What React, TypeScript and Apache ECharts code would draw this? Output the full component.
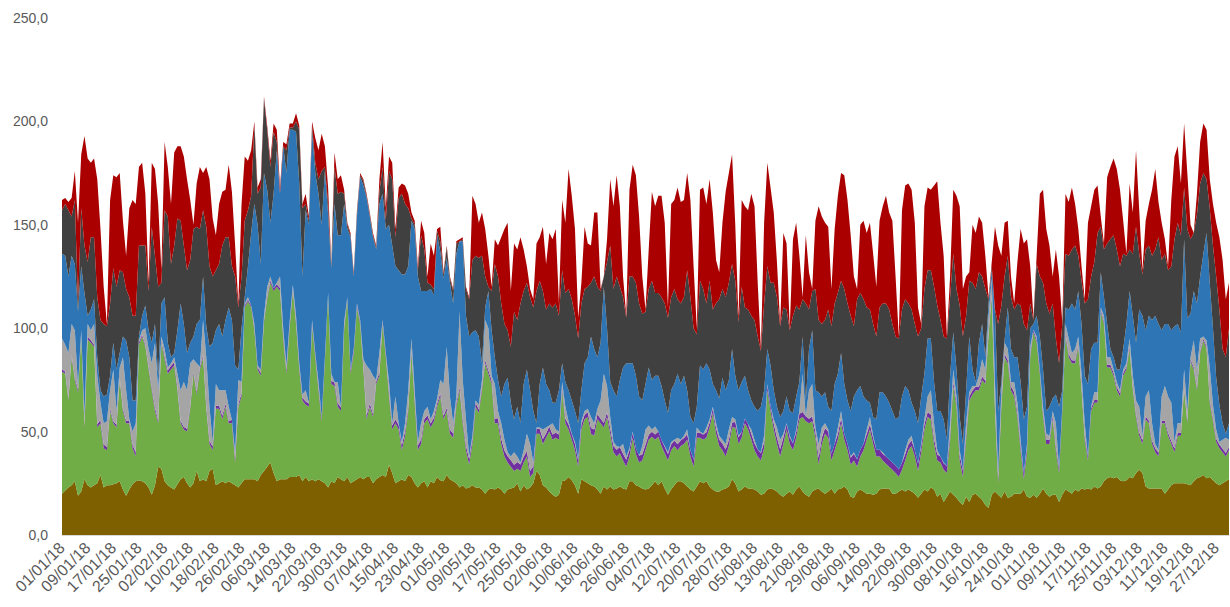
import React, { useEffect, useRef } from "react";
import * as echarts from "echarts";

// Levels: the top edge of each band (cumulative), per day of 2018.
const brownTop = [
  20, 21.5, 23, 24, 26, 19, 21, 27, 24, 23, 24, 25, 29, 23, 24, 24, 24.5, 25, 26, 22, 19, 22, 24.5, 26, 26.5, 26, 25, 23, 19.5, 24, 33, 32, 26, 24, 23, 22, 24.5,
  27, 28, 25, 23, 25, 31, 26, 27, 26, 31, 32, 24, 25, 26, 25, 26, 25, 24, 23, 25, 27, 27, 27, 27, 26, 29, 31, 33, 35, 30, 26, 27, 27, 27, 28, 28, 28, 29, 26,
  28, 26, 27, 26, 27, 26, 25, 23, 26, 25, 28, 27, 26, 28, 25, 26, 27, 28, 27, 28, 28, 25, 27, 28, 29, 28, 34, 30, 25, 26, 27, 26, 29, 28, 25, 23, 25, 26, 23,
  26, 25, 28, 26.5, 26, 29, 27, 26, 25, 23, 24, 22.5, 23, 24, 23, 23, 22, 20, 22, 22.5, 22, 23, 22, 20, 22, 22.5, 23, 25, 21, 24, 22, 23, 25, 31, 29, 24, 23, 21, 19.5,
  18.5, 19.5, 26, 26.5, 28, 26.5, 24, 20, 27, 26, 25, 24, 23.5, 22, 20, 23.5, 22, 23.5, 22, 22.5, 23.5, 22.5, 22, 26, 26, 24, 23.5, 22.5, 22, 22.5, 24, 26, 24, 26, 22.5, 19.5, 22, 24, 26,
  26, 25, 23.5, 22, 21, 23.5, 26, 25, 26, 23.5, 22, 21, 21, 22, 22.5, 23.5, 27, 25, 21, 22, 23.5, 22.5, 22.5, 22, 21, 19.5, 20, 22, 22.5, 22, 21, 19.5, 18.5, 20, 21, 19.5, 22, 23.5, 21,
  19.5, 18.5, 21, 22, 22.5, 21, 20, 21, 22.5, 20, 22, 22.5, 23.5, 22, 18.5, 18, 21, 22, 21, 20, 20, 19.5, 20, 22, 22.5, 22.5, 22.5, 20, 20, 21, 22, 21, 22, 21, 20, 18, 20, 22, 21,
  23, 22, 18.5, 20, 16, 18.5, 21, 19.5, 18, 16, 14.5, 18.5, 16, 19.5, 20, 18.5, 17, 14.5, 13, 19.5, 21, 19.5, 18, 21, 18, 18.5, 20, 20, 20, 22, 18.5, 18, 19.5, 18, 20, 22.5, 20, 18.5, 19.5,
  19.5, 16, 19.5, 22, 21, 20, 22, 21, 22.5, 22, 22.5, 22, 23.5, 22.5, 23.5, 26, 27.5, 28, 27.5, 28, 26.5, 26, 26.5, 28, 27.5, 30, 31.5, 30, 23.5, 22.5, 22.5, 22.5, 22.5, 22.5, 20, 22, 24, 25, 25,
  25, 25, 24.5, 24, 26, 27.5, 28, 29, 27.5, 28, 26.5, 25, 24, 25, 26, 27,
];

const greenTop = [
  79, 78, 65, 86, 75, 69, 96, 52, 94.5, 93, 91, 52, 54, 42, 41, 60, 54, 52, 75, 60, 54, 54, 42, 38, 92, 96, 91, 80, 70, 60, 54, 93, 85, 78, 80, 82, 70,
  54, 51, 50, 61, 78, 68, 80, 86, 61, 44, 41, 61, 61, 56, 62, 54, 54, 35, 62, 67, 110, 113, 110, 99, 80, 77, 103, 114, 122, 118, 120, 118, 95, 78, 100, 118, 102, 80, 65,
  63, 62, 101, 86, 70, 55, 84, 116, 73, 72, 62, 60, 99, 114, 78, 88, 110, 102, 80, 56, 62, 57, 73, 77, 102, 86, 67, 51, 54, 51, 41, 48, 60, 88, 64, 41, 44, 54, 56,
  52, 55, 62, 67, 56, 60, 49, 47, 62, 70, 54, 41, 34, 44, 62, 59, 70, 83, 78, 73, 54, 54, 44, 38, 35, 33, 31, 32, 31, 35, 38, 28, 30, 49, 49, 44, 47, 50, 46,
  47, 46, 70, 54, 51, 46, 41, 33, 51, 56, 57, 49, 48, 56, 54, 52, 57, 49, 40, 38, 39.5, 36, 33, 38, 47, 39, 35, 36, 41, 46, 47.5, 46, 47.5, 43, 39.5, 36, 41, 43, 41,
  43, 44, 46, 38, 33, 47, 47, 46, 47, 52, 59, 49, 43, 41, 38, 43, 52, 52, 44, 47, 54, 51, 46, 41, 38, 36, 42, 70, 60, 51, 44, 38, 44, 51, 44, 41, 47, 56, 57,
  55, 54, 55, 47, 34, 44, 49, 47, 36, 41, 46, 54, 46, 41, 34, 36, 33, 38, 41, 46, 51, 44, 38, 38, 36, 34.5, 33, 31.5, 30, 28, 31.5, 36, 41, 43, 38, 31, 40, 51, 57,
  56, 44, 36, 35, 31.5, 30, 46, 72, 62, 36, 28, 46, 65, 68, 70, 70, 75, 73, 96, 115, 60, 25, 62, 86, 83, 70, 67, 57, 41, 27, 40, 86, 98, 93, 78, 57, 44, 44, 56,
  41, 30, 60, 96, 86, 83, 83, 91, 70, 46, 36, 60, 64, 64, 108, 102, 81, 81, 77, 70, 67, 77, 80, 90, 70, 57, 48, 44, 56, 54, 44, 40, 38, 54, 54, 48, 44, 40, 48,
  48, 70, 54, 84, 80, 70, 88, 94, 90, 64, 55, 45, 42, 40, 38, 41,
];

// Thickness of the thin purple band.
const purpleBand = [
  1.2, 1, 0.8, 1, 1.1, 1.3, 0.9, 1, 1.4, 1.2, 1, 1.5, 1.6, 1.8, 1.5, 1.2, 1, 1.3, 1.1, 1, 1.2, 1.4, 1.7, 1.9, 1.2, 1, 0.9, 1.1, 1.3, 1.5, 1.2, 1, 1.4, 1.6, 1.8, 1.5, 1.2,
  1.1, 1.2, 1.4, 1.2, 1, 1.1, 1.3, 1, 1.2, 1.5, 1.8, 1.4, 1.6, 1.7, 1.5, 1.3, 1.6, 2, 1.4, 1.6, 1, 0.9, 1, 1.1, 1.2, 1.3, 0.9, 1, 1.1, 1.3, 1.2, 1.4, 1.6, 1.5, 1.2, 1.1, 1.3, 1.4, 1.5,
  1.5, 1.6, 1.2, 1.4, 1.5, 1.6, 1.3, 1, 1.6, 1.7, 1.8, 1.6, 1.2, 1.1, 1.5, 1.3, 1.1, 1.2, 1.4, 1.8, 1.6, 1.5, 1.3, 1.4, 1.2, 1.3, 1.7, 2, 1.8, 2.2, 2.4, 2.2, 1.8, 1.5, 1.9, 2.3, 2.2, 2, 1.9,
  1.9, 1.8, 1.6, 1.5, 1.7, 1.4, 1.9, 2.1, 1.8, 1.5, 1.9, 2.3, 2.6, 2.2, 1.9, 1.7, 1.6, 1.5, 1.6, 1.8, 2.2, 2.4, 2.6, 2.9, 3.1, 3.2, 3, 3.3, 3.1, 2.8, 2.6, 3, 3.2, 2.5, 2.3, 2.4, 2.2, 2.5, 2.6,
  2.5, 2.6, 1.8, 2.2, 2.4, 2.7, 3, 3.2, 2.4, 2.2, 2.3, 2.8, 3, 2.4, 2.2, 2.1, 2.3, 2.6, 3, 3.2, 3, 3.3, 3.4, 3.1, 2.6, 3, 3.3, 3.1, 2.8, 2.5, 2.4, 2.6, 2.5, 2.8, 3, 3.2, 2.8, 2.7, 2.9,
  2.8, 2.9, 2.7, 3.1, 3.4, 2.6, 2.5, 2.6, 2.7, 2.4, 2.3, 2.8, 3.1, 3.3, 3.4, 2.9, 2.4, 2.6, 3.1, 2.8, 2.3, 2.5, 2.9, 3.2, 3.4, 3.5, 3, 2.2, 2.4, 2.8, 3.2, 3.5, 3.1, 2.7, 3.2, 3.3, 2.9, 2.6, 2.5,
  2.4, 2.2, 2.3, 2.8, 3.4, 3, 2.8, 2.9, 3.3, 3.1, 2.8, 2.5, 2.9, 3.1, 3.4, 3.3, 3.5, 3.2, 3, 2.8, 2.5, 2.9, 3.2, 3.2, 3.3, 3.4, 3.5, 3.5, 3.6, 3.7, 3.4, 3.1, 2.8, 2.7, 3, 3.4, 3, 2.6, 2.4,
  2.3, 2.6, 2.9, 3, 3.2, 3.3, 2.6, 2, 2.2, 2.8, 3.1, 2.4, 2, 1.9, 1.8, 1.7, 1.6, 1.6, 1.4, 1.2, 1.6, 2.6, 1.8, 1.5, 1.6, 1.9, 2, 2.1, 2.5, 2.8, 2.4, 1.5, 1.3, 1.4, 1.6, 1.9, 2.2, 2.1, 1.8,
  1.8, 2.2, 1.5, 1.3, 1.4, 1.5, 1.4, 1.2, 1.5, 1.8, 2, 1.4, 1.3, 1.3, 1, 1.1, 1.3, 1.3, 1.4, 1.5, 1.5, 1.3, 1.2, 1.1, 1.3, 1.5, 1.6, 1.8, 1.4, 1.3, 1.6, 1.8, 1.9, 1.4, 1.3, 1.4, 1.5, 1.8, 1.6,
  1.5, 1.1, 1.3, 1, 1.1, 1.2, 1, 1, 1.1, 1.3, 1.5, 1.6, 1.8, 1.7, 1.6, 1.5,
];

const grayTop = [
  95, 92, 88, 102, 99, 72, 99, 58, 102, 99, 102, 77, 64, 54, 55, 70, 80, 60, 81, 86, 70, 56, 50, 54, 94, 99, 100, 90, 83, 93, 70, 96, 90, 81, 83, 86, 78,
  70, 74, 70, 83, 85, 83, 81, 104, 86, 62, 45, 73, 70, 70, 70, 62, 55, 40, 75, 74, 112, 115, 111, 102, 82, 80, 106, 120, 125, 119, 122, 125, 100, 82, 103, 121, 106, 83, 68,
  70, 64, 104, 88, 74, 57, 86, 117, 78, 74, 74, 61, 103, 115, 80, 90, 112, 104, 85, 82, 80, 77, 75, 88, 104, 88, 74, 54, 67, 54, 45, 54, 70, 95, 70, 45, 54, 60, 62,
  56, 60, 66, 75, 73, 91, 67, 54, 67, 108, 75, 56, 38, 48, 65, 63, 75, 104, 100, 77, 73, 60, 54, 46, 40, 38, 40, 38, 35, 41, 49, 44, 35, 52, 52, 51, 52, 53, 54,
  51, 50, 74, 62, 55, 49, 45, 37, 55, 60, 61, 57, 54, 61, 65, 78, 72, 57, 45, 43, 42, 44, 38, 42, 50, 42, 38, 43, 51, 53, 51, 52.5, 50, 45, 43, 40, 45, 46, 47,
  46, 48, 51, 41, 35, 52, 50, 49, 52, 56, 62, 54, 48, 46, 44, 51, 57, 56, 48, 49, 56, 52, 51, 46, 41, 40, 48, 73, 62, 56, 52, 46, 49, 54, 48, 44, 51, 60, 78,
  57, 70, 73, 52, 44, 52, 54, 51, 38, 44, 52, 60, 48, 44, 38, 40, 35, 40, 44, 51, 57, 48, 41, 41, 40, 38, 36, 35, 33, 31.5, 35, 41, 46, 48, 41, 34, 44, 56, 67,
  70, 54, 41, 38, 35, 32, 54, 80, 67, 41, 31.5, 54, 69, 72, 72, 77, 85, 80, 106, 124, 74, 30, 70, 93, 90, 74, 74, 64, 46, 30, 44, 91, 99, 96, 80, 62, 49, 48, 60,
  54, 32, 62, 102, 95, 88, 90, 96, 78, 54, 37, 62, 69, 69, 110, 106, 86, 86, 80, 74, 70, 80, 83, 95, 77, 65, 62, 48, 67, 70, 54, 44, 41, 67, 72, 67, 64, 45, 54,
  54, 80, 60, 86, 94, 80, 95, 96, 94, 81, 63, 51, 45, 46, 47, 46,
];

const blueTop = [
  136, 135, 125, 135, 131, 108, 130, 117, 106, 109, 114, 86, 70, 67, 68, 77, 93, 80, 88, 96, 94, 86, 65, 65, 96, 106, 111, 99, 93, 102, 77, 112, 115, 93, 86, 88, 99,
  112, 102, 88, 93, 96, 102, 104, 125, 101, 91, 93, 99, 102, 96, 104, 110, 104, 82, 80, 100, 115, 130, 146, 160, 150, 131, 175, 167, 151, 165, 186, 165, 188, 175, 196, 196, 195, 170, 125,
  157, 150, 195, 175, 165, 150, 176, 155, 129, 160, 145, 145, 160, 148, 144, 125, 154, 173, 169, 163, 154, 144, 138, 160, 165, 148, 150, 140, 130, 128, 126, 126, 130, 152, 148, 125, 118, 118, 118,
  119, 116, 145, 137, 124, 134, 122, 112, 136, 142, 142, 106, 96, 98, 99, 96, 83, 110, 118, 99, 86, 75, 67, 73, 76, 64, 56, 62, 54, 73, 80, 70, 60, 54, 73, 81, 73, 70, 64,
  64, 70, 83, 74, 70, 65, 60, 54, 70, 83, 86, 96, 90, 86, 93, 120, 100, 74, 70, 67, 75, 81, 83, 83, 83, 77, 67, 65, 73, 81, 75, 77, 77, 72, 65, 59, 70, 73, 78,
  73, 77, 70, 57, 54, 62, 82, 80, 83, 80, 73, 70, 66, 76, 70, 75, 90, 77, 70, 74, 77, 70, 65, 62, 60, 62, 70, 90, 82, 70, 62, 57, 60, 67, 60, 59, 67, 74, 96,
  65, 90, 99, 70, 69, 67, 69, 62, 60, 73, 78, 88, 73, 65, 60, 67, 70, 72, 67, 65, 64, 57, 56, 69, 69, 67, 64, 60, 56, 57, 67, 72, 70, 64, 60, 54, 67, 78, 95,
  95, 74, 60, 60, 56, 46, 77, 98, 80, 57, 44, 70, 96, 80, 74, 93, 102, 86, 112, 128, 108, 60, 74, 94, 110, 90, 86, 86, 74, 56, 62, 100, 102, 106, 96, 80, 60, 62, 66,
  68, 62, 70, 110, 109, 112, 109, 118, 102, 77, 73, 90, 93, 93, 127, 115, 102, 90, 86, 80, 80, 90, 102, 118, 106, 93, 109, 106, 99, 106, 104, 106, 102, 99, 102, 102, 99, 101, 102,
  98, 143, 105, 107, 118, 112, 125, 136, 146, 122, 100, 76, 63, 54, 49, 54,
];

const darkTop = [
  157, 160, 157, 154, 162, 112, 158, 140, 132, 144, 144, 115, 104, 102, 101, 112, 129, 120, 128, 127, 119, 115, 106, 106, 140, 140, 140, 118, 149, 135, 120, 122, 157, 154, 131, 140, 153,
  152, 140, 128, 133, 148, 149, 148, 157, 149, 130, 125, 128, 131, 140, 144, 144, 130, 125, 110, 125, 152, 157, 164, 198, 165, 168, 211, 196, 178, 195, 190, 165, 188, 186, 197, 197, 200, 196, 158,
  160, 152, 198, 180, 172, 176, 178, 160, 130, 178, 165, 166, 165, 150, 145, 126, 156, 174, 171, 164, 155, 145, 139, 166, 178, 152, 176, 172, 144, 163, 165, 160, 158, 153, 150, 128, 145, 138, 122,
  121, 119, 147, 142, 126, 139, 124, 118, 141, 142, 143, 119, 114, 133, 135, 134, 135, 125, 120, 118, 131, 125, 112, 102, 99, 91, 108, 104, 112, 118, 122, 115, 110, 118, 123, 118, 109, 112, 110,
  112, 106, 128, 117, 119, 114, 106, 95, 112, 119, 120, 122, 125, 120, 118, 125, 132, 140, 119, 125, 120, 115, 105, 125, 125, 122, 112, 107, 108, 119, 123, 117, 117, 115, 112, 105, 115, 119, 114,
  112, 115, 128, 115, 100, 97, 123, 119, 112, 123, 109, 112, 114, 119, 115, 122, 131, 123, 103, 120, 110, 109, 106, 104, 96, 89, 112, 130, 122, 122, 115, 101, 110, 109, 99, 106, 111, 109, 114,
  112, 109, 118, 119, 104, 102, 104, 109, 101, 112, 117, 123, 119, 112, 106, 101, 114, 117, 114, 110, 109, 102, 96, 110, 112, 112, 109, 102, 96, 95, 109, 114, 112, 109, 102, 96, 100, 119, 128,
  128, 120, 111, 104, 96, 95, 115, 136, 119, 111, 96, 106, 123, 122, 119, 127, 125, 119, 114, 130, 109, 102, 111, 125, 135, 115, 109, 112, 111, 102, 99, 112, 104, 131, 125, 122, 112, 107, 112,
  95, 83, 102, 136, 135, 138, 140, 135, 123, 112, 114, 125, 132, 146, 149, 138, 141, 143, 145, 138, 130, 136, 135, 138, 136, 149, 136, 126, 138, 140, 135, 138, 144, 133, 136, 128, 130, 143, 151,
  145, 168, 148, 143, 146, 155, 170, 175, 172, 158, 140, 125, 109, 90, 86, 100,
];

const redTop = [
  162, 163, 161, 163, 176, 151, 184, 193, 182, 180, 182, 172, 148, 120, 102, 162, 174, 173, 175, 152, 135, 158, 162, 160, 178, 180, 165, 122, 180, 177, 160, 128, 190, 178, 160, 185, 188,
  188, 183, 172, 162, 150, 170, 178, 175, 178, 172, 153, 145, 160, 166, 167, 179, 166, 140, 112, 160, 183, 181, 186, 200, 168, 172, 212, 198, 181, 199, 196, 168, 190, 189, 199, 199, 204, 198, 160,
  165, 154, 200, 192, 186, 194, 188, 168, 131, 185, 172, 174, 167, 151, 146, 127, 157, 175, 172, 165, 156, 146, 140, 172, 190, 158, 183, 180, 148, 168, 170, 169, 165, 156, 152, 130, 152, 146, 125,
  141, 135, 148, 149, 127, 140, 125, 119, 142, 143, 144, 120, 115, 164, 160, 151, 156, 148, 135, 120, 143, 140, 144, 148, 151, 118, 141, 138, 144, 138, 130, 119, 114, 141, 144, 149, 131, 146, 143,
  148, 112, 162, 151, 177, 164, 148, 105, 122, 149, 141, 140, 156, 156, 119, 125, 143, 172, 159, 174, 159, 125, 106, 167, 179, 174, 154, 125, 109, 138, 166, 159, 164, 164, 151, 110, 160, 162, 168,
  161, 162, 175, 162, 130, 100, 167, 168, 160, 172, 156, 133, 127, 151, 166, 175, 184, 150, 105, 162, 159, 157, 165, 159, 122, 90, 151, 180, 168, 156, 132, 102, 146, 141, 100, 143, 151, 135, 115,
  145, 127, 119, 152, 159, 154, 151, 149, 119, 148, 164, 175, 174, 162, 145, 125, 119, 150, 152, 146, 151, 136, 120, 152, 159, 164, 156, 152, 125, 96, 157, 169, 170, 167, 151, 110, 102, 159, 168,
  167, 169, 171, 151, 135, 96, 125, 167, 164, 159, 119, 125, 127, 150, 146, 154, 151, 135, 115, 132, 149, 140, 135, 151, 152, 125, 112, 132, 148, 141, 143, 130, 105, 135, 165, 167, 148, 140, 125,
  138, 125, 103, 165, 161, 168, 160, 148, 130, 114, 151, 159, 167, 169, 154, 141, 173, 178, 182, 177, 167, 152, 136, 170, 156, 186, 157, 128, 152, 160, 167, 177, 161, 151, 143, 130, 162, 183, 188,
  170, 199, 175, 150, 146, 165, 190, 199, 196, 172, 160, 151, 144, 133, 114, 122,
];

const yTicks = [0, 50, 100, 150, 200, 250];

const seriesDefs = [
  { name: "Serie 1", color: "#7F6000" },
  { name: "Serie 2", color: "#70AD47" },
  { name: "Serie 3", color: "#7030A0" },
  { name: "Serie 4", color: "#A5A5A5" },
  { name: "Serie 5", color: "#2E75B6" },
  { name: "Serie 6", color: "#404040" },
  { name: "Serie 7", color: "#AA0000" },
];

function buildDates(n: number): string[] {
  const out: string[] = [];
  const start = Date.UTC(2018, 0, 1);
  for (let i = 0; i < n; i++) {
    const d = new Date(start + i * 86400000);
    const dd = String(d.getUTCDate()).padStart(2, "0");
    const mm = String(d.getUTCMonth() + 1).padStart(2, "0");
    const yy = String(d.getUTCFullYear()).slice(2);
    out.push(`${dd}/${mm}/${yy}`);
  }
  return out;
}

function buildSeriesValues(): number[][] {
  const n = brownTop.length;
  const out: number[][] = seriesDefs.map(() => []);
  const tops = [brownTop, greenTop, null, grayTop, blueTop, darkTop, redTop];
  for (let i = 0; i < n; i++) {
    let cum = 0;
    for (let k = 0; k < tops.length; k++) {
      const arr = tops[k];
      let v: number;
      if (arr === null) v = purpleBand[i] ?? 0;
      else v = Math.max(0, (arr[i] ?? cum) - cum);
      v = Math.round(v * 10) / 10;
      out[k].push(v);
      cum += v;
    }
  }
  return out;
}

export default function App() {
  const ref = useRef<HTMLDivElement>(null);
  useEffect(() => {
    if (!ref.current) return;
    const chart = echarts.init(ref.current, undefined, { renderer: "svg" });
    const dates = buildDates(brownTop.length);
    const values = buildSeriesValues();
    const font = "'Liberation Sans', Arial, sans-serif";
    chart.setOption({
      animation: false,
      grid: { left: 62, right: 1, top: 18, bottom: 72 },
      xAxis: {
        type: "category",
        data: dates,
        boundaryGap: false,
        axisLine: { lineStyle: { color: "#D9D9D9", width: 1 } },
        axisTick: { show: false },
        axisLabel: {
          interval: 7,
          rotate: 45,
          color: "#595959",
          fontSize: 16,
          fontFamily: font,
          margin: 10,
        },
      },
      yAxis: {
        type: "value",
        min: yTicks[0],
        max: yTicks[yTicks.length - 1],
        interval: 50,
        splitLine: { show: false },
        axisLine: { show: false },
        axisTick: { show: false },
        axisLabel: {
          color: "#595959",
          fontSize: 14,
          fontFamily: font,
          margin: 14,
          formatter: (v: number) => v.toFixed(1).replace(".", ","),
        },
      },
      series: seriesDefs.map((s, k) => ({
        name: s.name,
        type: "line",
        stack: "total",
        data: values[k],
        showSymbol: false,
        symbol: "none",
        lineStyle: { width: 0, color: s.color },
        itemStyle: { color: s.color },
        areaStyle: { color: s.color, opacity: 1 },
        emphasis: { disabled: true },
        z: 2,
      })),
    });
    return () => chart.dispose();
  }, []);
  return (
    <div
      ref={ref}
      style={{ position: "fixed", left: 0, top: 0, width: 1230, height: 607, background: "#fff" }}
    />
  );
}
